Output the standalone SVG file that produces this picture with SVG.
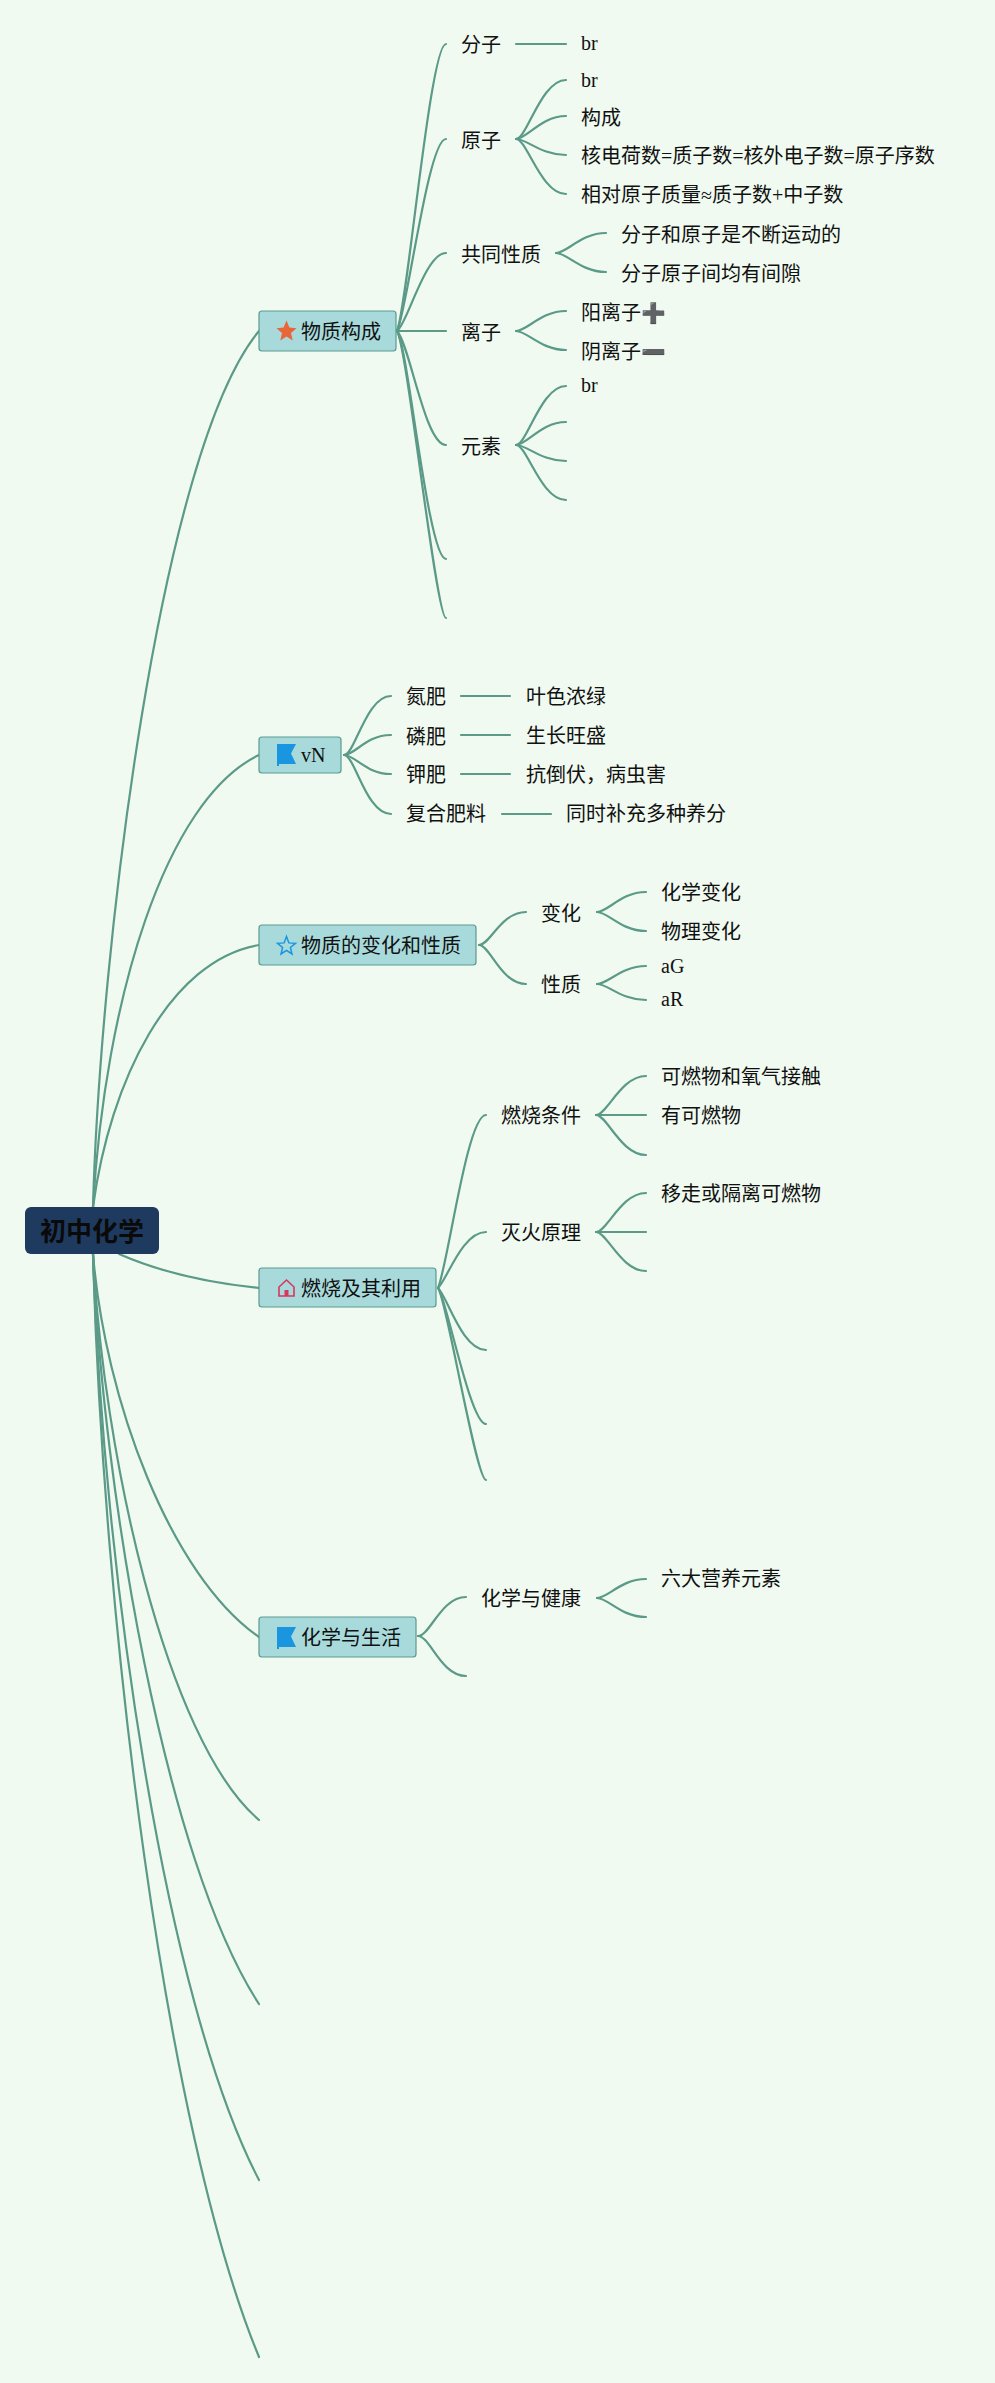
<svg xmlns="http://www.w3.org/2000/svg" width="995" height="2383" viewBox="0 0 995 2383">
<defs>
<style>
text{font-family:"Liberation Serif","Noto Sans CJK SC",serif;font-size:20px;fill:#111}
.c path{fill:none;stroke:#5b9a88;stroke-width:2.200;stroke-linecap:round}
.b{fill:#a8dadc;stroke:#5b9a90;stroke-width:1.2}
.e{font-family:"DejaVu Sans",sans-serif;font-size:20px;fill:#666}
</style>
<path id="flag" d="M0 0H19L14 9.500L19 20H2V22H0Z" fill="#1a95e0"/>
</defs>
<rect width="995" height="2383" fill="#f0faf0"/>
<g id="connectors" class="c">
<path d="M93 1207C100 950 160 450 259 331"/>
<path d="M93 1207C105 1000 165 800 259 755"/>
<path d="M93 1207C110 1080 170 960 259 945"/>
<path d="M119 1254C160 1272 210 1283 259 1288"/>
<path d="M93 1254C105 1400 170 1575 259 1637"/>
<path d="M93 1254C103 1450 165 1740 259 1820"/>
<path d="M93 1254C103 1490 165 1860 259 2004"/>
<path d="M93 1254C103 1570 165 2000 259 2180"/>
<path d="M93 1254C103 1620 165 2130 259 2357"/>
<path d="M397 331C407 310 430 44 446 44"/>
<path d="M397 331C407 312 428 139 446 139"/>
<path d="M397 331C407 325 425 253 446 253"/>
<path d="M397 331H446"/>
<path d="M397 331C410 345 425 445 446 445"/>
<path d="M397 331C408 345 428 559 446 559"/>
<path d="M397 331C407 345 436 618 446 618"/>
<path d="M516 44H566"/>
<path d="M516 139C527 139 541 80 566 80"/>
<path d="M516 139C527 139 541 116 566 116"/>
<path d="M516 139C527 139 541 155 566 155"/>
<path d="M516 139C527 139 541 194 566 194"/>
<path d="M556 253C567 253 581 233 606 233"/>
<path d="M556 253C567 253 581 272 606 272"/>
<path d="M516 331C527 331 541 311 566 311"/>
<path d="M516 331C527 331 541 350 566 350"/>
<path d="M516 445C527 445 541 386 566 386"/>
<path d="M516 445C527 445 541 422 566 422"/>
<path d="M516 445C527 445 541 461 566 461"/>
<path d="M516 445C527 445 541 500 566 500"/>
<path d="M344 755C355 755 366 696 391 696"/>
<path d="M344 755C355 755 366 735 391 735"/>
<path d="M344 755C355 755 366 774 391 774"/>
<path d="M344 755C355 755 366 814 391 814"/>
<path d="M461 696H510"/>
<path d="M461 735H510"/>
<path d="M461 774H510"/>
<path d="M502 814H551"/>
<path d="M479 945C490 945 501 912 526 912"/>
<path d="M479 945C490 945 501 984 526 984"/>
<path d="M597 912C608 912 621 892 646 892"/>
<path d="M597 912C608 912 621 931 646 931"/>
<path d="M597 984C608 984 621 966 646 966"/>
<path d="M597 984C608 984 621 1000 646 1000"/>
<path d="M438 1288C448 1265 467 1115 486 1115"/>
<path d="M438 1288C447 1280 462 1232 486 1232"/>
<path d="M438 1288C447 1296 462 1350 486 1350"/>
<path d="M438 1288C446 1296 470 1424 486 1424"/>
<path d="M438 1288C446 1296 476 1480 486 1480"/>
<path d="M596 1115C607 1115 621 1076 646 1076"/>
<path d="M596 1115H646"/>
<path d="M596 1115C607 1115 621 1155 646 1155"/>
<path d="M596 1232C607 1232 621 1193 646 1193"/>
<path d="M596 1232H646"/>
<path d="M596 1232C607 1232 621 1271 646 1271"/>
<path d="M418 1636C430 1636 441 1597 466 1597"/>
<path d="M418 1636C430 1636 441 1676 466 1676"/>
<path d="M597 1598C608 1598 621 1579 646 1579"/>
<path d="M597 1598C608 1598 621 1617 646 1617"/>
</g>
<g id="root"><rect x="25" y="1207" width="134" height="47" rx="6" fill="#1f3a5f"/><text x="92" y="1241" text-anchor="middle" style="font-size:26px;font-weight:700;fill:#0a0a0a">初中化学</text></g>
<g id="n1"><rect class="b" x="259" y="311" width="137" height="40" rx="3"/><path d="M286.500 320.500L289.400 327.600L296.500 328.200L291 332.900L292.700 340.500L286.500 336.400L280.300 340.500L282 332.900L276.500 328.200L283.600 327.600Z" fill="#e8663a"/><text x="301" y="339">物质构成</text></g>
<g id="n2"><rect class="b" x="259" y="737" width="82" height="36" rx="3"/><use href="#flag" x="277" y="744"/><text x="301" y="762">vN</text></g>
<g id="n3"><rect class="b" x="259" y="925" width="217" height="40" rx="3"/><path d="M286.500 936.500L288.900 942.900L295.500 943.300L290.400 947.500L292 954L286.500 950.400L281 954L282.600 947.500L277.500 943.300L284.100 942.900Z" fill="none" stroke="#1a95e0" stroke-width="1.500"/><text x="301" y="953">物质的变化和性质</text></g>
<g id="n4"><rect class="b" x="259" y="1268" width="177" height="39" rx="3"/><path d="M279 1287L286.500 1280L294 1287V1296H279Z" fill="none" stroke="#d8355f" stroke-width="1.600"/><rect x="284.500" y="1290" width="4" height="6" fill="#d8355f"/><text x="301" y="1296">燃烧及其利用</text></g>
<g id="n5"><rect class="b" x="259" y="1617" width="157" height="40" rx="3"/><use href="#flag" x="277" y="1627"/><text x="301" y="1645">化学与生活</text></g>
<g id="n1-1"><text x="461" y="52">分子</text></g>
<g id="n1-1-1"><text x="581" y="50">br</text></g>
<g id="n1-2"><text x="461" y="148">原子</text></g>
<g id="n1-2-1"><text x="581" y="87">br</text></g>
<g id="n1-2-2"><text x="581" y="125">构成</text></g>
<g id="n1-2-3"><text x="581" y="163">核电荷数=质子数=核外电子数=原子序数</text></g>
<g id="n1-2-4"><text x="581" y="202">相对原子质量≈质子数+中子数</text></g>
<g id="n1-3"><text x="461" y="262">共同性质</text></g>
<g id="n1-3-1"><text x="621" y="242">分子和原子是不断运动的</text></g>
<g id="n1-3-2"><text x="621" y="281">分子原子间均有间隙</text></g>
<g id="n1-4"><text x="461" y="340">离子</text></g>
<g id="n1-4-1"><text x="581" y="320">阳离子<tspan class="e">➕</tspan></text></g>
<g id="n1-4-2"><text x="581" y="359">阴离子<tspan class="e">➖</tspan></text></g>
<g id="n1-5"><text x="461" y="454">元素</text></g>
<g id="n1-5-1"><text x="581" y="392">br</text></g>
<g id="n2-1"><text x="406" y="704">氮肥</text></g>
<g id="n2-1-1"><text x="526" y="704">叶色浓绿</text></g>
<g id="n2-2"><text x="406" y="744">磷肥</text></g>
<g id="n2-2-1"><text x="526" y="743">生长旺盛</text></g>
<g id="n2-3"><text x="406" y="782">钾肥</text></g>
<g id="n2-3-1"><text x="526" y="782">抗倒伏，病虫害</text></g>
<g id="n2-4"><text x="406" y="821">复合肥料</text></g>
<g id="n2-4-1"><text x="566" y="821">同时补充多种养分</text></g>
<g id="n3-1"><text x="541" y="921">变化</text></g>
<g id="n3-1-1"><text x="661" y="900">化学变化</text></g>
<g id="n3-1-2"><text x="661" y="939">物理变化</text></g>
<g id="n3-2"><text x="541" y="992">性质</text></g>
<g id="n3-2-1"><text x="661" y="973">aG</text></g>
<g id="n3-2-2"><text x="661" y="1006">aR</text></g>
<g id="n4-1"><text x="501" y="1123">燃烧条件</text></g>
<g id="n4-1-1"><text x="661" y="1084">可燃物和氧气接触</text></g>
<g id="n4-1-2"><text x="661" y="1123">有可燃物</text></g>
<g id="n4-2"><text x="501" y="1240">灭火原理</text></g>
<g id="n4-2-1"><text x="661" y="1201">移走或隔离可燃物</text></g>
<g id="n5-1"><text x="481" y="1606">化学与健康</text></g>
<g id="n5-1-1"><text x="661" y="1586">六大营养元素</text></g>
</svg>
